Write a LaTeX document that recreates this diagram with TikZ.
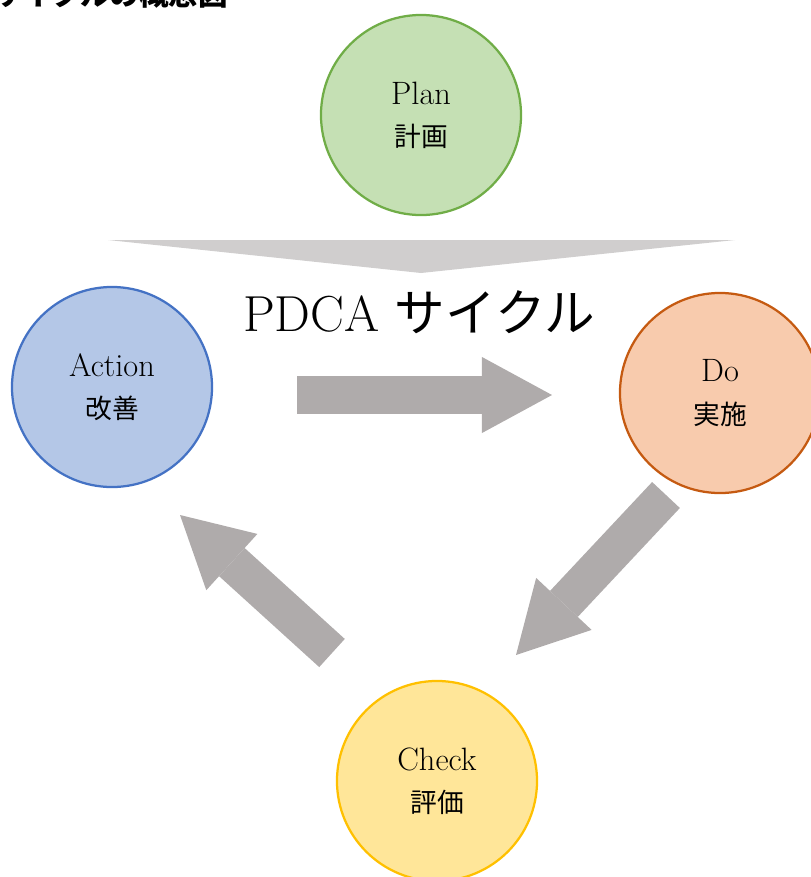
\documentclass[tikz,border=0pt]{standalone}
\usepackage{fontspec}
\usepackage{xcolor}
\usepackage{tikz}
\usetikzlibrary{arrows.meta}

\newfontfamily\jp{Noto Sans CJK JP}
\newcommand{\jplabel}[1]{{\fontsize{19}{19}\selectfont\jp #1}}

\definecolor{planfill}{HTML}{C5E0B4}
\definecolor{planline}{HTML}{70AD47}
\definecolor{dofill}{HTML}{F8CBAD}
\definecolor{doline}{HTML}{C55A11}
\definecolor{checkfill}{HTML}{FFE699}
\definecolor{checkline}{HTML}{FFC000}
\definecolor{actfill}{HTML}{B4C7E7}
\definecolor{actline}{HTML}{4472C4}
\definecolor{bannergray}{HTML}{D0CECE}
\definecolor{flowgray}{HTML}{AFABAB}

\begin{document}
\begin{tikzpicture}[
x=0.025cm, y=-0.025cm,
every node/.style={font=\fontsize{23}{30}\selectfont},
phase/.style={circle,line width=1.6pt,minimum size=5cm,align=center,inner sep=0pt},
flow/.style={draw=flowgray,line width=0.95cm,
  -{Triangle[length=1.75cm,width=1.9cm,line width=0pt]}}
]
\useasboundingbox (0,0) rectangle (811,877);

% Heading (runs off the top edge)
\node[anchor=base east,inner sep=0pt,font=\fontsize{21}{21}\selectfont\jp\bfseries]
  (heading) at (228,5) {サイクルの概念図};

% Banner under Plan
\fill[bannergray] (108,240) -- (735,240) -- (421,273) -- cycle;

% Phases
\node[phase,fill=planfill,draw=planline] (plan) at (421,115) {Plan\\\jplabel{計画}};
\node[phase,fill=actfill,draw=actline] (act) at (112,387) {Action\\\jplabel{改善}};
\node[phase,fill=dofill,draw=doline] (do) at (720,393) {Do\\\jplabel{実施}};
\node[phase,fill=checkfill,draw=checkline] (check) at (437,781) {Check\\\jplabel{評価}};

% Title
\node[anchor=base,inner sep=0pt,font=\fontsize{36}{36}\selectfont]
  (title) at (419,331) {PDCA {\jp サイクル}};

% Flow arrows
\coordinate (toDoS) at (297,395);
\coordinate (toDoE) at (552,395);
\coordinate (toCheckS) at (666,495);
\coordinate (toCheckE) at (516,655);
\coordinate (toActS) at (332,653);
\coordinate (toActE) at (180,515);

\draw[flow] (toDoS) -- (toDoE);
\draw[flow] (toCheckS) -- (toCheckE);
\draw[flow] (toActS) -- (toActE);

\end{tikzpicture}
\end{document}
